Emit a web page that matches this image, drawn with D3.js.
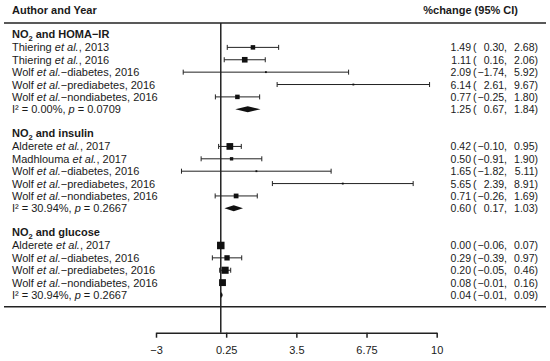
<!DOCTYPE html>
<html>
<head>
<meta charset="utf-8">
<script src="https://cdn.jsdelivr.net/npm/d3@7"></script>
<style>
  body { margin: 0; background: #fff; }
  text { font-family: "Liberation Sans", Arial, sans-serif; fill: #1a1a1a; }
</style>
</head>
<body>
<div id="wrapper"></div>
<script>
// group headings (NO2 written with a subscript 2)
const groupNames = ["HOMA−IR", "insulin", "glucose"];

// NO2 and HOMA-IR
const homaLabels = ["Thiering et al., 2013", "Thiering et al., 2016", "Wolf et al.−diabetes, 2016", "Wolf et al.−prediabetes, 2016", "Wolf et al.−nondiabetes, 2016"];
const homaEst = [1.49, 1.11, 2.09, 6.14, 0.77];
const homaLo = [0.30, 0.16, -1.74, 2.61, -0.25];
const homaHi = [2.68, 2.06, 5.92, 9.67, 1.80];
const homaWeight = [18, 28, 3, 3, 18];

// NO2 and insulin
const insLabels = ["Alderete et al., 2017", "Madhlouma et al., 2017", "Wolf et al.−diabetes, 2016", "Wolf et al.−prediabetes, 2016", "Wolf et al.−nondiabetes, 2016"];
const insEst = [0.42, 0.50, 1.65, 5.65, 0.71];
const insLo = [-0.10, -0.91, -1.82, 2.39, -0.26];
const insHi = [0.95, 1.90, 5.11, 8.91, 1.69];
const insWeight = [40, 10, 3, 3, 20];

// NO2 and glucose
const gluLabels = ["Alderete et al., 2017", "Wolf et al.−diabetes, 2016", "Wolf et al.−prediabetes, 2016", "Wolf et al.−nondiabetes, 2016"];
const gluEst = [0.00, 0.29, 0.20, 0.08];
const gluLo = [-0.06, -0.39, -0.05, -0.01];
const gluHi = [0.07, 0.97, 0.46, 0.16];
const gluWeight = [50, 25, 45, 42];

// pooled estimates
const pooledEst = [1.25, 0.60, 0.04];
const pooledLo = [0.67, 0.17, -0.01];
const pooledHi = [1.84, 1.03, 0.09];
const pooledI2 = ["0.00%", "30.94%", "30.94%"];
const pooledP = ["0.0709", "0.2667", "0.2667"];

const xTicks = [-3, 0.25, 3.5, 6.75, 10];

const drawForest = () => {
  const width = 550, height = 361;

  const svg = d3.select("#wrapper").append("svg")
    .attr("width", width).attr("height", height);

  // build rows
  const groups = [
    {labels: homaLabels, est: homaEst, lo: homaLo, hi: homaHi, w: homaWeight},
    {labels: insLabels, est: insEst, lo: insLo, hi: insHi, w: insWeight},
    {labels: gluLabels, est: gluEst, lo: gluLo, hi: gluHi, w: gluWeight}
  ];
  const rows = [];
  let idx = 0;
  groups.forEach((g, gi) => {
    rows.push({type: "head", i: idx++, name: groupNames[gi]});
    g.labels.forEach((l, k) => {
      rows.push({type: "study", i: idx++, label: l, est: g.est[k], lo: g.lo[k], hi: g.hi[k], w: g.w[k]});
    });
    rows.push({type: "pooled", i: idx++, est: pooledEst[gi], lo: pooledLo[gi], hi: pooledHi[gi], i2: pooledI2[gi], p: pooledP[gi]});
    idx++; // blank row
  });
  const lastIdx = rows[rows.length - 1].i;

  const xScale = d3.scaleLinear().domain([-3, 10]).range([156, 436.7]);
  const yScale = d3.scaleLinear().domain([0, lastIdx]).range([35, 295]);
  const boxScale = d3.scaleSqrt().domain([0, 50]).range([0, 7.5]);
  const fmt = d3.format(".2f");

  // header + rules
  svg.append("text").attr("x", 12).attr("y", 14)
    .style("font-size", "11px").style("font-weight", "bold").text("Author and Year");
  svg.append("text").attr("x", 518).attr("y", 14).attr("text-anchor", "end")
    .style("font-size", "11px").style("font-weight", "bold").text("%change (95% CI)");
  [23, 306.7].forEach(y => {
    svg.append("line").attr("x1", 4).attr("x2", 546).attr("y1", y).attr("y2", y)
      .attr("stroke", "#222").attr("stroke-width", 1.5);
  });

  // zero line
  svg.append("line").attr("x1", xScale(0)).attr("x2", xScale(0))
    .attr("y1", 23).attr("y2", 332.7)
    .attr("stroke", "#222").attr("stroke-width", 1.5);

  // left labels
  const lab = svg.append("g").style("font-size", "11px");
  rows.forEach(r => {
    const y = yScale(r.i) + 4;
    if (r.type === "head") {
      const t = lab.append("text").attr("x", 12).attr("y", y - 1).style("font-weight", "bold");
      t.append("tspan").text("NO");
      t.append("tspan").attr("dy", 2.5).style("font-size", "7.5px").text("2");
      t.append("tspan").attr("dy", -2.5).text(" and " + r.name);
    } else if (r.type === "study") {
      const t = lab.append("text").attr("x", 12).attr("y", y);
      const parts = r.label.split("et al.");
      t.append("tspan").text(parts[0]);
      t.append("tspan").style("font-style", "italic").text("et al.");
      t.append("tspan").text(parts[1]);
    } else {
      const t = lab.append("text").attr("x", 12).attr("y", y);
      t.append("tspan").text("I² = " + r.i2 + ", ");
      t.append("tspan").style("font-style", "italic").text("p");
      t.append("tspan").text(" = " + r.p);
    }
  });

  // right column numbers
  const num = svg.append("g").style("font-size", "10.5px");
  rows.filter(r => r.type !== "head").forEach(r => {
    const y = yScale(r.i) + 4;
    num.append("text").attr("x", 471).attr("y", y).attr("text-anchor", "end").text(fmt(r.est));
    num.append("text").attr("x", 473).attr("y", y).text("(");
    num.append("text").attr("x", 507).attr("y", y).attr("text-anchor", "end").text(fmt(r.lo) + ",");
    num.append("text").attr("x", 538).attr("y", y).attr("text-anchor", "end").text(fmt(r.hi) + ")");
  });

  // CI lines
  const studies = rows.filter(r => r.type === "study");
  const ci = svg.append("g").attr("stroke", "#222").attr("stroke-width", 1);
  studies.forEach(r => {
    const y = yScale(r.i);
    ci.append("line").attr("x1", xScale(r.lo)).attr("x2", xScale(r.hi)).attr("y1", y).attr("y2", y);
    [r.lo, r.hi].forEach(v => {
      ci.append("line").attr("x1", xScale(v)).attr("x2", xScale(v)).attr("y1", y - 2.5).attr("y2", y + 2.5);
    });
  });

  // boxes
  svg.append("g").selectAll("rect")
    .data(studies)
    .join("rect")
    .attr("x", d => xScale(d.est) - boxScale(d.w) / 2)
    .attr("y", d => yScale(d.i) - boxScale(d.w) / 2)
    .attr("width", d => boxScale(d.w))
    .attr("height", d => boxScale(d.w))
    .attr("fill", "#111");

  // diamonds
  svg.append("g").selectAll("path")
    .data(rows.filter(r => r.type === "pooled"))
    .join("path")
    .attr("d", d => {
      const y = yScale(d.i);
      return `M${xScale(d.lo)},${y} L${xScale(d.est)},${y - 3} L${xScale(d.hi)},${y} L${xScale(d.est)},${y + 3} Z`;
    })
    .attr("fill", "#111");

  // axis
  const axis = svg.append("g")
    .attr("transform", "translate(0,332.7)")
    .call(d3.axisBottom(xScale).tickValues(xTicks).tickFormat(d => d3.format("")(d))
      .tickSize(5).tickSizeOuter(0).tickPadding(9));
  axis.selectAll("path, line").attr("stroke", "#222").attr("stroke-width", 1.5);
  axis.selectAll("text").style("font-size", "11px")
    .style("font-family", '"Liberation Sans", Arial, sans-serif').attr("fill", "#1a1a1a");
}

drawForest()
</script>
</body>
</html>
